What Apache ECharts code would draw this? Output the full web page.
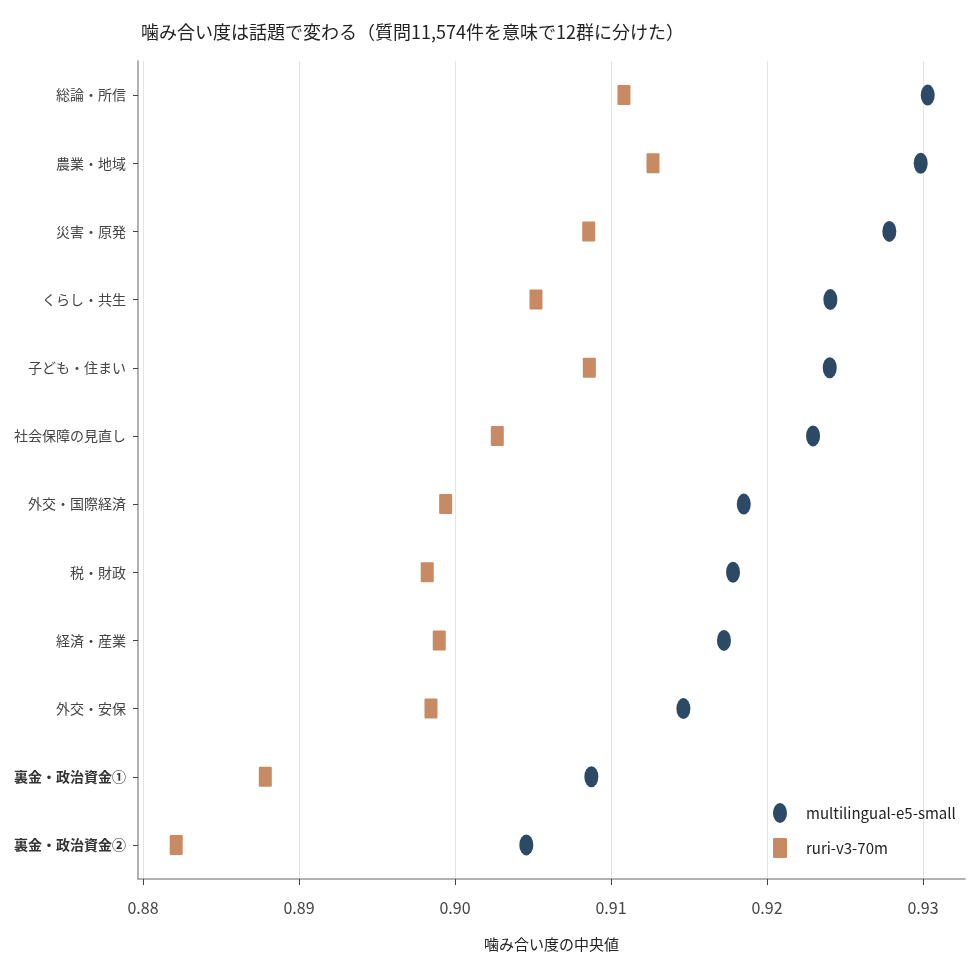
<!DOCTYPE html>
<html>
<head>
<meta charset="utf-8">
<script src="https://cdn.jsdelivr.net/npm/echarts@6/dist/echarts.min.js"></script>
<style>
html,body{margin:0;padding:0;background:#fff;}
#c{width:977px;height:977px;}
</style>
</head>
<body>
<div id="c"></div>
<script>
var categories = ['総論・所信','農業・地域','災害・原発','くらし・共生','子ども・住まい','社会保障の見直し','外交・国際経済','税・財政','経済・産業','外交・安保','裏金・政治資金①','裏金・政治資金②'];
var boldCategories = ['裏金・政治資金①','裏金・政治資金②'];
var e5Values = [0.93030,0.92985,0.92784,0.92406,0.92402,0.92295,0.91851,0.91782,0.91724,0.91464,0.90874,0.90457];
var ruriValues = [0.91083,0.91269,0.90857,0.90519,0.90861,0.90271,0.89940,0.89822,0.89899,0.89846,0.88784,0.88213];
var xTicks = [0.88,0.89,0.90,0.91,0.92,0.93];
var seriesNames = ['multilingual-e5-small','ruri-v3-70m'];
var titleText = '噛み合い度は話題で変わる（質問11,574件を意味で12群に分けた）';
var xAxisName = '噛み合い度の中央値';

var FONT = '"Noto Sans CJK JP","Noto Sans",sans-serif';
var ellipse = 'path://M10,0A10,10,0,1,1,10,20A10,10,0,1,1,10,0Z';
var rectSym = 'path://M1,0H12Q13,0,13,1V19Q13,20,12,20H1Q0,20,0,19V1Q0,0,1,0Z';

var chart = echarts.init(document.getElementById('c'), null, {renderer:'canvas'});
chart.setOption({
  backgroundColor:'#fff',
  animation:false,
  textStyle:{fontFamily:FONT},
  title:{
    text:titleText, left:136, top:18,
    textStyle:{fontFamily:FONT,fontSize:18,fontWeight:'normal',color:'#222'}
  },
  legend:{
    orient:'vertical', left:773, top:803, padding:0, itemGap:15,
    itemWidth:14, itemHeight:20, symbolKeepAspect:false,
    textStyle:{fontFamily:FONT,fontSize:15,color:'#222',padding:[0,0,0,14],lineHeight:20},
    data:[{name:seriesNames[0],icon:ellipse,symbolKeepAspect:false},{name:seriesNames[1],icon:rectSym,symbolKeepAspect:false}]
  },
  grid:{left:138,right:12,top:61,bottom:98,containLabel:false},
  xAxis:{
    type:'value', min:0.87968, max:0.93269,
    name:xAxisName, nameLocation:'middle', nameGap:58,
    nameTextStyle:{fontFamily:FONT,fontSize:15,color:'#222'},
    axisLine:{show:true,lineStyle:{color:'#999',width:1.5}},
    axisTick:{show:true,length:6,lineStyle:{color:'#444'},customValues:xTicks},
    axisLabel:{fontFamily:FONT,fontSize:16,color:'#444',margin:21,customValues:xTicks,
      formatter:function(v){return v.toFixed(2);}},
    splitLine:{show:true,lineStyle:{color:'#e4e4e4',width:1}}
  },
  yAxis:{
    type:'category', data:categories, inverse:true,
    axisLine:{show:true,lineStyle:{color:'#999',width:1.5}},
    axisTick:{show:true,length:5,alignWithLabel:true,lineStyle:{color:'#444'}},
    axisLabel:{fontFamily:FONT,fontSize:14,color:'#444',margin:12,
      formatter:function(v){return boldCategories.indexOf(v)>=0 ? '{b|'+v+'}' : v;},
      rich:{b:{fontFamily:FONT,fontSize:14,fontWeight:'bold',color:'#333'}}},
    splitLine:{show:false}
  },
  series:[
    {name:seriesNames[0], type:'scatter', symbol:ellipse, symbolSize:[14,21], symbolKeepAspect:false,
     itemStyle:{color:'#2c4a66',opacity:1}, data:e5Values.map(function(v,i){return [v,categories[i]];}), z:3},
    {name:seriesNames[1], type:'scatter', symbol:rectSym, symbolSize:[13,20], symbolKeepAspect:false,
     itemStyle:{color:'#c88a62',opacity:1}, data:ruriValues.map(function(v,i){return [v,categories[i]];}), z:2}
  ]
});
</script>
</body>
</html>
